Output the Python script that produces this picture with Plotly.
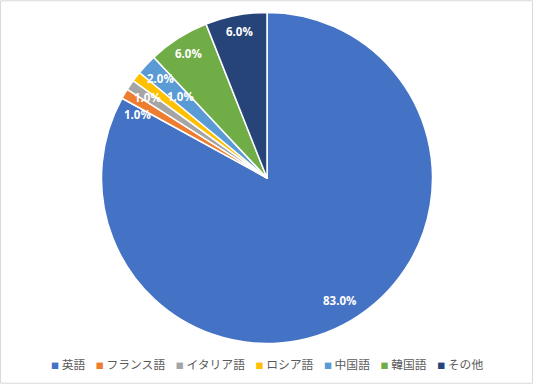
import math
import plotly.graph_objects as go

categories = ["英語", "フランス語", "イタリア語", "ロシア語", "中国語", "韓国語", "その他"]
values = [83.0, 1.0, 1.0, 1.0, 2.0, 6.0, 6.0]
colors = ["#4472C4", "#ED7D31", "#A5A5A5", "#FFC000", "#5B9BD5", "#70AD47", "#264478"]
# label placement (fraction of radius, angular shift in % of total)
label_radius = [0.86, 0.87, 0.87, 0.72, 0.88, 0.89, 0.90]
label_shift = [0.0, -1.2, 0.0, 1.5, 0.0, 0.0, 0.0]

W, H = 533, 384
cx, cy, R = 267.0, 178.0, 165.5

fig = go.Figure(go.Pie(
    labels=categories, values=values, sort=False, direction="clockwise", rotation=0,
    marker=dict(colors=colors, line=dict(color="white", width=1.5)),
    textinfo="none", hoverinfo="label+percent", showlegend=False,
    domain=dict(x=[(cx - R) / W, (cx + R) / W], y=[1 - (cy + R) / H, 1 - (cy - R) / H]),
))

total = sum(values)
cum = 0.0
annotations = []
for v, f, s in zip(values, label_radius, label_shift):
    mid = (cum + v / 2 + s) / total * 2 * math.pi
    cum += v
    px = cx + f * R * math.sin(mid)
    py = cy - f * R * math.cos(mid)
    annotations.append(dict(
        x=px / W, y=1 - py / H, xref="paper", yref="paper", showarrow=False,
        text=f"<b>{v / total * 100:.1f}%</b>",
        font=dict(family="Open Sans, Noto Sans", size=11.5, color="white"),
        xanchor="center", yanchor="middle",
    ))

# legend row (single line, centred at bottom)
sep = "&nbsp;" * 4
legend_text = sep.join(
    f"<span style='color:{c};font-size:8px'>■</span>&nbsp;{n}" for n, c in zip(categories, colors)
)
annotations.append(dict(
    x=0.5, y=1 - 363 / H, xref="paper", yref="paper", showarrow=False,
    text=legend_text, xanchor="center", yanchor="middle",
    font=dict(family="Noto Sans CJK JP", size=11.8, color="#595959"),
))

fig.update_layout(
    width=W, height=H, margin=dict(l=0, r=0, t=0, b=0),
    paper_bgcolor="white", plot_bgcolor="white",
    annotations=annotations, showlegend=False,
    shapes=[dict(type="rect", xref="paper", yref="paper", x0=0.001, y0=0.002, x1=0.999, y1=0.998,
                 line=dict(color="#D9D9D9", width=1))],
)

fig.write_html("out.html", config={"displayModeBar": False},
               post_script="document.body.style.margin='0';document.body.style.overflow='hidden';")
